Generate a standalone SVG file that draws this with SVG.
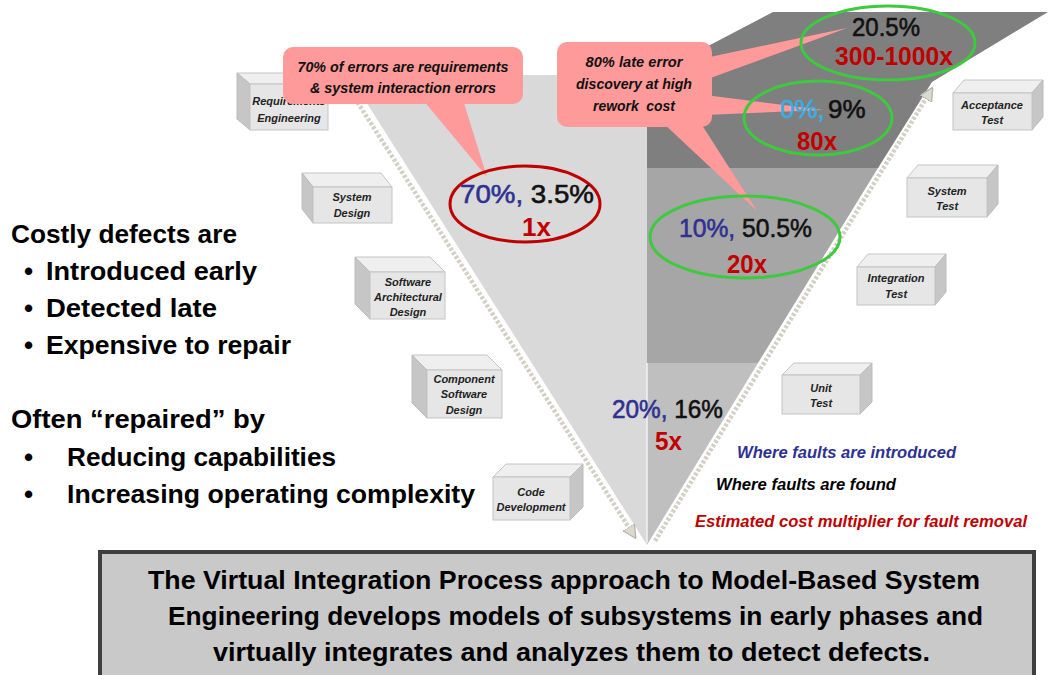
<svg xmlns="http://www.w3.org/2000/svg" width="1048" height="675" viewBox="0 0 1048 675">
<style>
.f{font-family:"Liberation Sans",Arial,sans-serif}
.bt{font-family:"Liberation Sans",Arial,sans-serif;font-size:11px;font-weight:bold;font-style:italic;fill:#222;text-anchor:middle}
.top{fill:#efefef;stroke:#c4c4c4;stroke-width:1}
.side{fill:#c6c6c6;stroke:#bcbcbc;stroke-width:1}
.front{fill:#e6e6e6;stroke:#c4c4c4;stroke-width:1}
.co{fill:#ff9a9a}
.ct{font-family:"Liberation Sans",Arial,sans-serif;font-size:14px;font-weight:bold;font-style:italic;fill:#111;text-anchor:middle}
.ge{fill:none;stroke:#3ec93e;stroke-width:3}
.num{font-family:"Liberation Sans",Arial,sans-serif;font-size:26px;stroke-width:0.6}
.blue{fill:#2e3192;stroke:#2e3192}
.blk{fill:#111;stroke:#111}
.red{fill:#c00000;font-weight:bold}
.lt{font-family:"Liberation Sans",Arial,sans-serif;font-size:26px;font-weight:bold;fill:#000}
.leg{font-family:"Liberation Sans",Arial,sans-serif;font-size:16px;font-weight:bold;font-style:italic}
.dot{fill:none;stroke:#d3d0c6;stroke-width:4.5;stroke-dasharray:3 1.8}
.bb{font-family:"Liberation Sans",Arial,sans-serif;font-size:26px;font-weight:bold;fill:#000}
</style>
<defs>
<marker id="ah" viewBox="0 0 10 10" refX="6" refY="5" markerWidth="3" markerHeight="3" orient="auto">
<path d="M0,0 L10,5 L0,10 z" fill="#dcd9cf" stroke="#b8b5ab" stroke-width="1"/>
</marker>
</defs>
<rect width="1048" height="675" fill="#ffffff"/>
<g id="v-shape">
<polygon points="349,75 647,75 647,545" fill="#d9d9d9"/>
<polygon points="647,78 773,12 1048,12 932,82 878,168 647,168" fill="#7f7f7f"/>
<polygon points="647,168 878,168 758,363 647,363" fill="#a6a6a6"/>
<polygon points="647,363 758,363 647,545" fill="#bfbfbf"/>
<line x1="647" y1="363" x2="647" y2="543" stroke="#f2f2f2" stroke-width="1.5"/>
</g>
<g id="connectors">
<line class="dot" x1="342" y1="78" x2="633" y2="534" marker-end="url(#ah)"/>
<line class="dot" x1="655" y1="541" x2="930" y2="92" marker-end="url(#ah)"/>
</g>
<g id="box-requirements">
<polygon class="top" points="250,84 328,84 315,73 237,73"/>
<polygon class="side" points="250,84 237,73 237,119 250,130"/>
<rect class="front" x="250" y="84" width="78" height="46"/>
<text class="bt" x="289" y="105">Requirements</text>
<text class="bt" x="289" y="122">Engineering</text>
</g>
<g id="box-system-design">
<polygon class="top" points="313,187 392,187 381,173 302,173"/>
<polygon class="side" points="313,187 302,173 302,209 313,223"/>
<rect class="front" x="313" y="187" width="79" height="36"/>
<text class="bt" x="352" y="201">System</text>
<text class="bt" x="352" y="217">Design</text>
</g>
<g id="box-sw-arch">
<polygon class="top" points="370,272 445,272 430,257 355,257"/>
<polygon class="side" points="370,272 355,257 355,304 370,319"/>
<rect class="front" x="370" y="272" width="75" height="47"/>
<text class="bt" x="408" y="286">Software</text>
<text class="bt" x="408" y="301">Architectural</text>
<text class="bt" x="408" y="316">Design</text>
</g>
<g id="box-component">
<polygon class="top" points="427,370 502,370 487,355 412,355"/>
<polygon class="side" points="427,370 412,355 412,403 427,418"/>
<rect class="front" x="427" y="370" width="75" height="48"/>
<text class="bt" x="464" y="383">Component</text>
<text class="bt" x="464" y="398">Software</text>
<text class="bt" x="464" y="414">Design</text>
</g>
<g id="box-code">
<polygon class="top" points="493,477 570,477 583,464 506,464"/>
<polygon class="side" points="570,477 583,464 583,507 570,520"/>
<rect class="front" x="493" y="477" width="77" height="43"/>
<text class="bt" x="531" y="496">Code</text>
<text class="bt" x="531" y="511">Development</text>
</g>
<g id="box-acceptance">
<polygon class="top" points="953,93 1032,93 1043,80 964,80"/>
<polygon class="side" points="1032,93 1043,80 1043,117 1032,130"/>
<rect class="front" x="953" y="93" width="79" height="37"/>
<text class="bt" x="992" y="109">Acceptance</text>
<text class="bt" x="992" y="124">Test</text>
</g>
<g id="box-system-test">
<polygon class="top" points="907,178 987,178 998,165 918,165"/>
<polygon class="side" points="987,178 998,165 998,204 987,217"/>
<rect class="front" x="907" y="178" width="80" height="39"/>
<text class="bt" x="947" y="195">System</text>
<text class="bt" x="947" y="210">Test</text>
</g>
<g id="box-integration">
<polygon class="top" points="857,267 935,267 946,254 868,254"/>
<polygon class="side" points="935,267 946,254 946,292 935,305"/>
<rect class="front" x="857" y="267" width="78" height="38"/>
<text class="bt" x="896" y="282">Integration</text>
<text class="bt" x="896" y="298">Test</text>
</g>
<g id="box-unit">
<polygon class="top" points="782,375 860,375 872,363 794,363"/>
<polygon class="side" points="860,375 872,363 872,402 860,414"/>
<rect class="front" x="782" y="375" width="78" height="39"/>
<text class="bt" x="821" y="392">Unit</text>
<text class="bt" x="821" y="407">Test</text>
</g>
<g id="callout-tails">
<polygon class="co" points="423,100 463,100 487,177"/>
<polygon class="co" points="705,58 705,80 847,28"/>
<polygon class="co" points="705,95 705,115 823,110"/>
<polygon class="co" points="662,122 700,122 757,211"/>
</g>
<g id="ellipse-requirements">
<ellipse cx="525" cy="204" rx="75" ry="38" fill="none" stroke="#c00000" stroke-width="3"/>
<text class="num" x="460" y="203" textLength="134" lengthAdjust="spacingAndGlyphs"><tspan class="blue">70%, </tspan><tspan class="blk">3.5%</tspan></text>
<text class="num red" x="522" y="236">1x</text>
</g>
<g id="ellipse-acceptance">
<ellipse cx="888" cy="43" rx="87" ry="37" class="ge"/>
<text class="num blk" x="852" y="36" font-size="21" textLength="68" lengthAdjust="spacingAndGlyphs">20.5%</text>
<text class="num red" x="835" y="65" font-size="21" textLength="118" lengthAdjust="spacingAndGlyphs">300-1000x</text>
</g>
<g id="ellipse-system">
<ellipse cx="818" cy="118" rx="74" ry="37" class="ge"/>
<text class="num" x="780" y="118" font-size="23" fill="#3aaee2" stroke="#3aaee2">0%,</text>
<text class="num blk" x="828" y="118" font-size="23">9%</text>
<text class="num red" x="797" y="150" font-size="22" textLength="40" lengthAdjust="spacingAndGlyphs">80x</text>
</g>
<g id="ellipse-integration">
<ellipse cx="745" cy="237" rx="95" ry="41" class="ge"/>
<text class="num" x="679" y="237" textLength="133" lengthAdjust="spacingAndGlyphs"><tspan class="blue">10%, </tspan><tspan class="blk">50.5%</tspan></text>
<text class="num red" x="727" y="273" textLength="40" lengthAdjust="spacingAndGlyphs">20x</text>
</g>
<g id="unit-numbers">
<text class="num" x="612" y="418" textLength="111" lengthAdjust="spacingAndGlyphs"><tspan class="blue">20%, </tspan><tspan class="blk">16%</tspan></text>
<text class="num red" x="655" y="450" textLength="27" lengthAdjust="spacingAndGlyphs">5x</text>
</g>
<g id="callout-1">
<rect class="co" x="283" y="47" width="240" height="57" rx="10"/>
<text class="ct" x="403" y="72" textLength="211" lengthAdjust="spacingAndGlyphs">70% of errors are requirements</text>
<text class="ct" x="403" y="93" textLength="186" lengthAdjust="spacingAndGlyphs">&amp; system interaction errors</text>
</g>
<g id="callout-2">
<rect class="co" x="557" y="42" width="155" height="85" rx="10"/>
<text class="ct" x="634" y="67" textLength="97" lengthAdjust="spacingAndGlyphs">80% late error</text>
<text class="ct" x="634" y="89" textLength="116" lengthAdjust="spacingAndGlyphs">discovery at high</text>
<text class="ct" x="634" y="111" xml:space="preserve" textLength="82" lengthAdjust="spacingAndGlyphs">rework  cost</text>
</g>
<g id="legend">
<text class="leg" x="737" y="458" fill="#2e3192" textLength="219" lengthAdjust="spacingAndGlyphs">Where faults are introduced</text>
<text class="leg" x="716" y="490" fill="#000" textLength="180" lengthAdjust="spacingAndGlyphs">Where faults are found</text>
<text class="leg" x="695" y="527" fill="#c00000" textLength="332" lengthAdjust="spacingAndGlyphs">Estimated cost multiplier for fault removal</text>
</g>
<g id="left-text">
<text class="lt" x="11" y="243" textLength="226" lengthAdjust="spacingAndGlyphs">Costly defects are</text>
<text class="lt" x="24" y="280">•</text>
<text class="lt" x="46" y="280" textLength="211" lengthAdjust="spacingAndGlyphs">Introduced early</text>
<text class="lt" x="24" y="317">•</text>
<text class="lt" x="46" y="317" textLength="171" lengthAdjust="spacingAndGlyphs">Detected late</text>
<text class="lt" x="24" y="354">•</text>
<text class="lt" x="46" y="354" textLength="245" lengthAdjust="spacingAndGlyphs">Expensive to repair</text>
<text class="lt" x="11" y="428" textLength="254" lengthAdjust="spacingAndGlyphs">Often “repaired” by</text>
<text class="lt" x="24" y="466">•</text>
<text class="lt" x="67" y="466" textLength="269" lengthAdjust="spacingAndGlyphs">Reducing capabilities</text>
<text class="lt" x="24" y="503">•</text>
<text class="lt" x="67" y="503" textLength="408" lengthAdjust="spacingAndGlyphs">Increasing operating complexity</text>
</g>
<g id="bottom-box">
<rect x="100" y="552" width="934" height="130" fill="#c9c9c9" stroke="#3f3f3f" stroke-width="4"/>
<text class="bb" x="148" y="589" textLength="832" lengthAdjust="spacingAndGlyphs">The Virtual Integration Process approach to Model-Based System</text>
<text class="bb" x="168" y="625" textLength="815" lengthAdjust="spacingAndGlyphs">Engineering develops models of subsystems in early phases and</text>
<text class="bb" x="213" y="661" textLength="717" lengthAdjust="spacingAndGlyphs">virtually integrates and analyzes them to detect defects.</text>
</g>
</svg>
